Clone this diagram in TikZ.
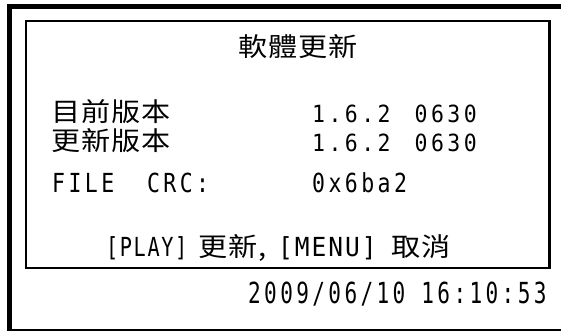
\documentclass[tikz,border=0pt]{standalone}
\usepackage{fontspec}
\newfontfamily\lcdfont[LetterSpace=16]{DejaVu Sans Mono}
\newfontfamily\keyfont[LetterSpace=8]{DejaVu Sans Mono}
\newfontfamily\cjkfont[FakeStretch=1.12,LetterSpace=3.5]{Noto Sans CJK TC}
\newcommand{\lcdrow}[1]{\scalebox{1}[1.1]{#1}}
\newcommand{\lcdtall}[2][1]{\scalebox{#1}[1.22]{#2}}
\newcommand{\lcdstamp}[1]{\scalebox{0.98}[1.35]{#1}}
\begin{document}
\begin{tikzpicture}[x=1pt,y=-1pt]
		
		\tikzset{lcd/.style = {font=\fontsize{21.5}{24}\lcdfont,inner sep=0pt,anchor=base west}}
		\tikzset{key/.style = {font=\fontsize{21.5}{24}\keyfont,inner sep=0pt,anchor=base west}}
		\tikzset{cjk/.style = {font=\fontsize{26}{30}\cjkfont,inner sep=0pt,anchor=base west}}
		\useasboundingbox (0,0) rectangle (561,333);
		%frame
		\draw[line width=5pt] (9.5,330) -- (9.5,6.5) -- (561,6.5);
		\draw[line width=1.5pt] (7,330) -- (561,330);
		\draw[line width=2.5pt] (26,21) rectangle (549.5,268);
		%texts
		\node[cjk] (title) at (238,56) {軟體更新};
		\node[cjk] (cur) at (51,121) {目前版本};
		\node[cjk] (new) at (51,150) {更新版本};
		\node[lcd] (file) at (52,192) {\lcdtall{FILE\ \ CRC:}};
		\node[lcd] (curver) at (312,122) {\lcdrow{1.6.2\hspace{24pt}0630}};
		\node[lcd] (newver) at (312,151) {\lcdrow{1.6.2\hspace{24pt}0630}};
		\node[lcd] (crc) at (312,192) {\lcdtall{0x6ba2}};
		%keys
		\node[key] (play) at (106,256) {\lcdtall[0.94]{[PLAY]}};
		\node[cjk] (upd) at (198,256) {更新,};
		\node[key] (menu) at (278,256) {\lcdtall[1.14]{[MENU]}};
		\node[cjk] (quit) at (391,256) {取消};
		\node[lcd] (clock) at (248,303) {\lcdstamp{2009/06/10\ 16:10:53}};
		\end{tikzpicture}
\end{document}
